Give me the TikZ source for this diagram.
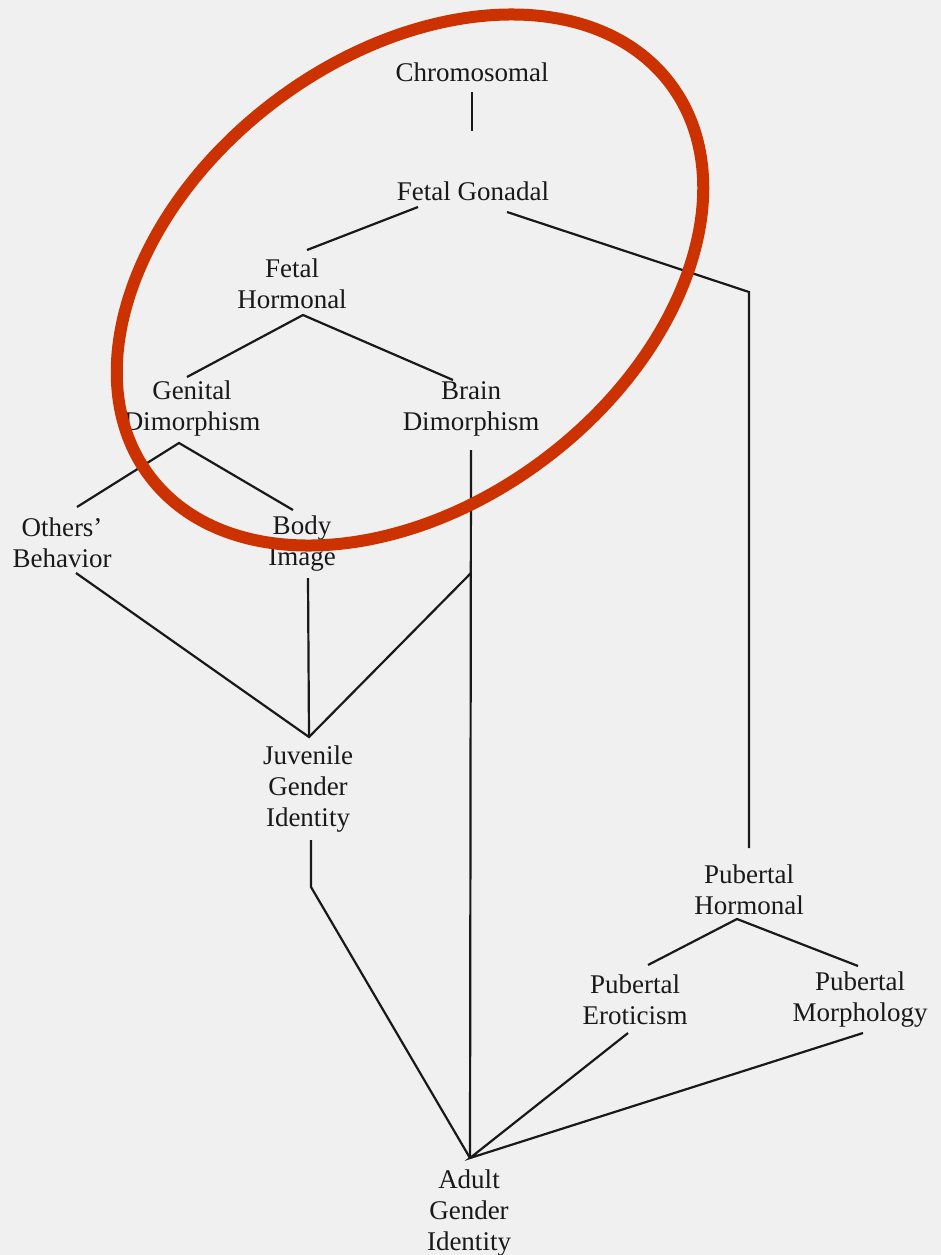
\documentclass[tikz,border=0pt]{standalone}
\usepackage{fontspec}
\setmainfont{Liberation Serif}
\definecolor{paper}{RGB}{240,240,240}
\definecolor{marker}{RGB}{204,50,0}
\definecolor{ink}{RGB}{25,25,25}
\begin{document}
\begin{tikzpicture}[x=1pt,y=-1pt,
  lbl/.style={inner sep=0pt,align=center,text=ink,font=\fontsize{27}{31}\selectfont},
  link/.style={draw=ink,line width=2.2pt,line join=miter}]
\fill[paper] (0,0) rectangle (941,1255);
\useasboundingbox (0,0) rectangle (941,1255);
% nodes
\node[lbl] (chrom) at (472,72) {Chromosomal};
\node[lbl] (fgon) at (473,191) {Fetal Gonadal};
\node[lbl] (fhorm) at (292,284) {Fetal\\Hormonal};
\node[lbl] (gen) at (192,409) {Genital\\Dimorphism};
\node[lbl] (brain) at (471,409) {Brain\\Dimorphism};
\node[lbl] (others) at (62,543) {Others'\\Behavior};
\node[lbl] (body) at (302,544) {Body\\Image};
\node[lbl] (juv) at (308,789) {Juvenile\\Gender\\Identity};
\node[lbl] (phorm) at (749,890) {Pubertal\\Hormonal};
\node[lbl] (pero) at (635,1000) {Pubertal\\Eroticism};
\node[lbl] (pmorph) at (860,1000) {Pubertal\\Morphology};
\node[lbl] (adult) at (469,1213) {Adult\\Gender\\Identity};
% connector end points
\coordinate (chromB) at (472,92);
\coordinate (fgonT) at (472,131);
\coordinate (fgonL) at (418,207);
\coordinate (fgonR) at (507,212);
\coordinate (fhormT) at (307,250);
\coordinate (bend) at (749,292);
\coordinate (phormT) at (749,848);
\coordinate (fhormB) at (303,315);
\coordinate (genT) at (187,377);
\coordinate (brainT) at (453,380);
\coordinate (genB) at (179,443);
\coordinate (othersT) at (77,507);
\coordinate (bodyT) at (293,510);
\coordinate (othersB) at (76,573);
\coordinate (bodyB) at (308,578);
\coordinate (juvT) at (309,737);
\coordinate (brainB) at (471,450);
\coordinate (fork) at (471,573);
\coordinate (juvB) at (311,840);
\coordinate (juvK) at (311,887);
\coordinate (adultT) at (470,1158);
\coordinate (phormB) at (737,919);
\coordinate (peroT) at (648,965);
\coordinate (pmorphT) at (858,966);
\coordinate (peroB) at (628,1033);
\coordinate (pmorphB) at (863,1033);
% connectors
\draw[link] (chromB) -- (fgonT);
\draw[link] (fgonL) -- (fhormT);
\draw[link] (fgonR) -- (bend) -- (phormT);
\draw[link] (genT) -- (fhormB) -- (brainT);
\draw[link] (othersT) -- (genB) -- (bodyT);
\draw[link] (othersB) -- (juvT) -- (fork);
\draw[link] (bodyB) -- (juvT);
\draw[link] (brainB) -- (adultT);
\draw[link] (juvB) -- (juvK) -- (adultT);
\draw[link] (peroT) -- (phormB) -- (pmorphT);
\draw[link] (peroB) -- (adultT) -- (pmorphB);
% red marker ellipse
\draw[marker,line width=12pt,rotate around={37:(410,280)}] (410,280) ellipse [x radius=326pt, y radius=224pt];
\end{tikzpicture}
\end{document}
